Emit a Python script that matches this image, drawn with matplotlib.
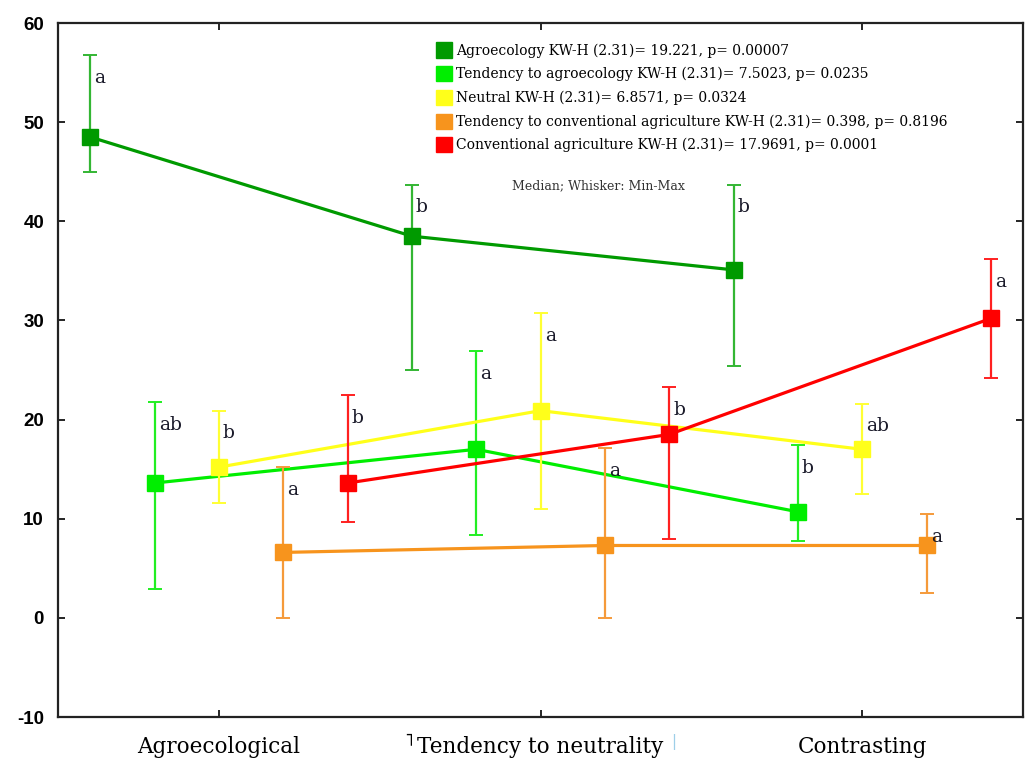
import numpy as np
import matplotlib.pyplot as plt
from matplotlib.patches import Patch

plt.rcParams["axes.unicode_minus"] = False

categories = ["Agroecological", "Tendency to neutrality", "Contrasting"]

series_names = [
    "Agroecology KW-H (2.31)= 19.221, p= 0.00007",
    "Tendency to agroecology KW-H (2.31)= 7.5023, p= 0.0235",
    "Neutral KW-H (2.31)= 6.8571, p= 0.0324",
    "Tendency to conventional agriculture KW-H (2.31)= 0.398, p= 0.8196",
    "Conventional agriculture KW-H (2.31)= 17.9691, p= 0.0001",
]

# medians, minimum and maximum for each group
agro_med = [48.5, 38.5, 35.1]
agro_min = [45.0, 25.0, 25.4]
agro_max = [56.8, 43.7, 43.7]

tagro_med = [13.6, 17.0, 10.7]
tagro_min = [2.9, 8.4, 7.8]
tagro_max = [21.8, 26.9, 17.4]

neutral_med = [15.2, 20.9, 17.0]
neutral_min = [11.6, 11.0, 12.5]
neutral_max = [20.9, 30.7, 21.6]

tconv_med = [6.6, 7.3, 7.3]
tconv_min = [0.0, 0.0, 2.5]
tconv_max = [15.2, 17.1, 10.5]

conv_med = [13.6, 18.5, 30.2]
conv_min = [9.7, 8.0, 24.2]
conv_max = [22.5, 23.3, 36.2]

letters = [
    ["a", "b", "b"],
    ["ab", "a", "b"],
    ["b", "a", "ab"],
    ["a", "a", "a"],
    ["b", "b", "a"],
]

meds = [agro_med, tagro_med, neutral_med, tconv_med, conv_med]
mins = [agro_min, tagro_min, neutral_min, tconv_min, conv_min]
maxs = [agro_max, tagro_max, neutral_max, tconv_max, conv_max]

colors = ["#009a00", "#00ee00", "#ffff1a", "#f7941d", "#ff0000"]
ecolors = ["#33b633", "#22ee22", "#ffff33", "#f59a3a", "#ff2020"]
offsets = [-0.4, -0.2, 0.0, 0.2, 0.4]

serif = "DejaVu Serif"

fig = plt.figure(figsize=(10.29, 7.63), dpi=100)
ax = fig.add_axes([58 / 1029, 1 - 717 / 763, 965 / 1029, 694 / 763])

x = np.arange(len(categories))
for i in range(5):
    xs = x + offsets[i]
    med = np.array(meds[i])
    lo = med - np.array(mins[i])
    hi = np.array(maxs[i]) - med
    ax.errorbar(xs, med, yerr=[lo, hi], fmt="none", ecolor=ecolors[i],
                elinewidth=1.6, capsize=5, capthick=1.4, zorder=2 + i)
    ax.plot(xs, med, color=colors[i], lw=2.3, marker="s", markersize=11.5,
            zorder=3 + i)
    for j in range(3):
        ax.annotate(letters[i][j], (xs[j], maxs[i][j]), xytext=(3, -20),
                    textcoords="offset points", ha="left", va="baseline",
                    fontsize=13.5, family=serif, color="#1a1a2a", zorder=10)

ax.set_xlim(-0.5, 2.5)
ax.set_ylim(-10, 60)
ax.set_yticks(np.arange(-10, 61, 10))
ax.set_xticks(x)
ax.set_xticklabels(categories, family=serif, fontsize=15.5)
for lab in ax.get_yticklabels():
    lab.set_fontweight("bold")
    lab.set_fontsize(13.5)
    lab.set_family("Liberation Sans")
ax.tick_params(direction="in", top=True, right=True, length=5, width=1.2)
ax.tick_params(axis="y", pad=10)
ax.tick_params(axis="x", pad=14)
for s in ax.spines.values():
    s.set_linewidth(1.6)
    s.set_color("#222222")

handles = [Patch(facecolor=c, edgecolor=c) for c in colors]
ax.legend(handles, series_names, loc="upper left", bbox_to_anchor=(0.392, 0.972),
          frameon=False, prop={"family": serif, "size": 10},
          handlelength=1.15, handleheight=1.3, handletextpad=0.3,
          labelspacing=0.61, borderpad=0, borderaxespad=0)

ax.text(0.56, 0.765, "Median; Whisker: Min-Max", transform=ax.transAxes,
        ha="center", va="center", family=serif, fontsize=9, color="#333333")

# small stray marks under the axis
fig.text(409 / 1029, 1 - 740 / 763, "˥", fontsize=13, ha="center", va="center")
fig.text(674 / 1029, 1 - 742 / 763, "|", fontsize=11, ha="center", va="center",
         color="#9ecfe8")

fig.savefig("out.png", dpi=100)
